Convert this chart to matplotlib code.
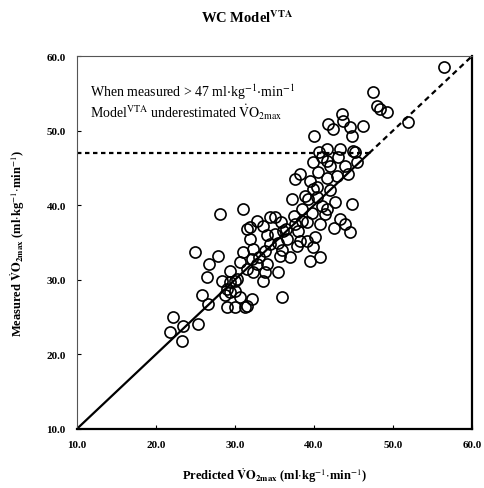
import matplotlib
matplotlib.use("Agg")
import matplotlib.pyplot as plt
import numpy as np

plt.rcParams['font.family'] = ['Liberation Serif', 'DejaVu Serif']
plt.rcParams['mathtext.fontset'] = 'stix'

# predicted vs measured VO2max (ml/kg/min)
predicted = [56.5, 47.5, 48.0, 48.4, 49.2, 51.9, 43.5, 43.7, 41.8, 42.4, 44.6, 46.2,
             44.8, 40.0, 43.3, 41.6, 44.9, 40.6, 45.2, 41.6, 39.9, 42.0, 43.9, 45.4,
             38.2, 37.6, 39.5, 41.6, 42.9, 40.4, 39.9, 38.9, 37.2, 39.2, 40.4, 41.0,
             41.6, 42.7, 44.8, 31.0, 28.1, 41.4, 40.8, 43.3, 43.9, 44.6, 32.8, 34.4,
             35.1, 31.9, 33.5, 37.6, 38.5, 36.1, 39.1, 31.5, 31.9, 35.1, 36.6, 38.2,
             39.1, 40.1,
             31.0, 32.3, 33.8, 35.7, 37.8, 37.0, 39.9, 40.8, 39.5, 30.6, 32.8, 34.1,
             32.3, 33.8, 35.4, 33.5, 30.0, 29.4, 36.0, 30.0, 31.3, 32.2, 24.9, 27.8,
             26.7, 26.5, 29.4, 28.4, 29.4, 30.3, 29.0, 30.0, 28.7, 25.8, 26.6, 30.6,
             31.5, 29.0, 22.2, 23.4, 25.3, 21.8, 23.3, 31.5, 32.2,
             34.5, 35.5, 33.0, 36.5, 37.5, 38.5, 36.0, 34.0, 35.8, 39.8, 38.0, 42.0,
             40.5, 41.0, 43.0, 44.3, 42.5]
measured = [58.5, 55.2, 53.3, 52.9, 52.5, 51.2, 52.2, 51.3, 50.9, 50.2, 50.5, 50.6,
            49.3, 49.3, 47.5, 47.5, 47.3, 47.1, 47.1, 45.9, 45.8, 45.3, 45.3, 45.8,
            44.2, 43.5, 43.2, 43.6, 43.9, 42.4, 42.2, 41.2, 40.8, 40.8, 41.1, 39.9,
            39.5, 40.4, 40.2, 39.5, 38.8, 38.8, 37.5, 38.2, 37.5, 36.4, 37.9, 38.4,
            38.4, 37.1, 37.2, 37.5, 37.9, 36.5, 37.7, 36.8, 35.5, 36.1, 35.5, 35.2,
            35.2, 35.7,
            33.7, 34.1, 33.9, 33.2, 34.5, 33.1, 34.4, 33.1, 32.5, 32.4, 32.1, 32.1,
            31.0, 31.0, 31.0, 29.8, 29.8, 28.4, 27.7, 26.4, 26.4, 27.4, 33.7, 33.2,
            32.1, 30.4, 31.2, 29.8, 29.7, 30.1, 28.8, 28.5, 27.9, 27.9, 26.8, 27.7,
            26.5, 26.4, 25.0, 23.8, 24.1, 23.0, 21.8, 31.4, 32.8,
            34.8, 35.0, 33.0, 36.8, 38.5, 39.5, 34.0, 36.0, 37.8, 39.0, 36.5, 42.0,
            44.5, 46.5, 46.5, 44.2, 37.0]

ticks = [10, 20, 30, 40, 50, 60]
cutoff = 47

fig = plt.figure(figsize=(4.84, 4.89), dpi=100)
ax = fig.add_axes([0.159, 0.121, 0.816, 0.762])

ax.plot(predicted, measured, 'o', mfc='none', mec='black', mew=1.2, ms=8, zorder=3)

# line of identity: solid below cutoff, dashed above
ax.plot([10, cutoff], [10, cutoff], color='black', lw=1.6)
ax.plot([cutoff, 60], [cutoff, 60], color='black', lw=1.6, ls=(0, (2.5, 1.8)))
ax.plot([10, cutoff], [cutoff, cutoff], color='black', lw=1.6, ls=(0, (2.0, 1.6)))

ax.text(11.7, 55.3, r'When measured > 47 ml$\cdot$kg$^{-1}$$\cdot$min$^{-1}$',
        fontsize=10, va='center', ha='left')
ax.text(11.7, 52.6, r'Model$^{\mathrm{VTA}}$ underestimated $\dot{\mathrm{V}}\mathrm{O}_{2\mathrm{max}}$',
        fontsize=10, va='center', ha='left')

ax.set_xlim(10, 60)
ax.set_ylim(10, 60)
ax.set_xticks(ticks)
ax.set_yticks(ticks)
ax.set_xticklabels([f'{t:.1f}' for t in ticks], fontweight='bold', fontsize=8)
ax.set_yticklabels([f'{t:.1f}' for t in ticks], fontweight='bold', fontsize=8)
ax.tick_params(direction='in', length=3, width=0.8, pad=8)
ax.yaxis.set_ticks_position('left')
ax.xaxis.set_ticks_position('bottom')

for side in ['left', 'top']:
    ax.spines[side].set_linewidth(0.8)
    ax.spines[side].set_color('#555555')
for side in ['right', 'bottom']:
    ax.spines[side].set_linewidth(1.6)

ax.set_xlabel(r'Predicted $\dot{\mathbf{V}}\mathbf{O}_{\mathbf{2max}}$ (ml$\cdot$kg$^{-1}$$\cdot$min$^{-1}$)',
              fontsize=9, fontweight='bold', labelpad=12)
ax.set_ylabel(r'Measured $\dot{\mathbf{V}}\mathbf{O}_{\mathbf{2max}}$ (ml$\cdot$kg$^{-1}$$\cdot$min$^{-1}$)',
              fontsize=9, fontweight='bold', labelpad=14)

fig.text(0.51, 0.963, r'WC Model$^{\mathbf{VTA}}$', ha='center', va='center',
         fontsize=10.5, fontweight='bold')

fig.savefig('out.png', dpi=100)
